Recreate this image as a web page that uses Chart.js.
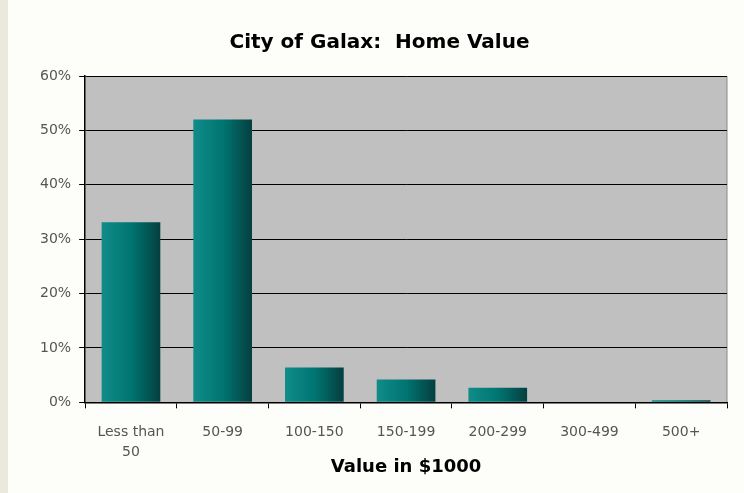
<!DOCTYPE html>
<html>
<head>
<meta charset="utf-8">
<script src="https://cdn.jsdelivr.net/npm/chart.js@4.4.0/dist/chart.umd.min.js"></script>
<style>
  html, body { margin: 0; padding: 0; background: #fdfdfa; }
  #wrap { position: absolute; left: 8px; top: 0; width: 736px; height: 493px; }
  #strip { position: absolute; left: 0; top: 0; width: 8px; height: 493px; background: #ebe8dc; }
</style>
</head>
<body>
<div id="strip"></div>
<div id="wrap"><canvas id="c" width="736" height="493"></canvas></div>
<script>
var categories = [["Less than", "50"], "50-99", "100-150", "150-199", "200-299", "300-499", "500+"];
var homeValue = [33.1, 52.0, 6.4, 4.2, 2.7, 0, 0.4];
var yTicks = [0, 10, 20, 30, 40, 50, 60];

// gray plot background
var plotBg = {
	id: "plotBg",
	beforeDraw: function (chart) {
		var a = chart.chartArea;
		var ctx = chart.ctx;
		ctx.save();
		ctx.fillStyle = "#c0c0c0";
		ctx.fillRect(a.left, a.top, a.right - a.left, a.bottom - a.top);
		ctx.strokeStyle = "#8a8a8a";
		ctx.lineWidth = 1;
		ctx.beginPath();
		ctx.moveTo(a.right, a.top);
		ctx.lineTo(a.right, a.bottom);
		ctx.stroke();
		ctx.restore();
	}
};

function barGradient(context) {
	var chart = context.chart;
	if (!chart.chartArea || !chart.scales.x) return "#007070";
	var x = chart.scales.x.getPixelForValue(context.dataIndex);
	var half = chart.scales.x.width / categories.length * 0.64 / 2;
	var g = chart.ctx.createLinearGradient(x - half, 0, x + half, 0);
	g.addColorStop(0, "#108c89");
	g.addColorStop(0.5, "#007572");
	g.addColorStop(1, "#053f3f");
	return g;
}

new Chart(document.getElementById("c"), {
	type: "bar",
	data: {
		labels: categories,
		datasets: [{
			data: homeValue,
			backgroundColor: barGradient,
			borderWidth: 0,
			categoryPercentage: 0.64,
			barPercentage: 1
		}]
	},
	options: {
		responsive: false,
		animation: false,
		layout: { padding: { left: 24, right: 17, top: 10, bottom: 15 } },
		plugins: {
			legend: { display: false },
			tooltip: { enabled: false },
			title: {
				display: true,
				text: "City of Galax:  Home Value",
				color: "#000",
				font: { family: "DejaVu Sans", size: 20, weight: "bold" },
				padding: { top: 21, bottom: 21 }
			}
		},
		scales: {
			x: {
				grid: { offset: true, drawOnChartArea: false, drawTicks: true, tickLength: 6, color: "#000" },
				border: { color: "#000", width: 1.5 },
				ticks: { color: "#555", font: { family: "DejaVu Sans", size: 14, lineHeight: 1.43 }, padding: 14, maxRotation: 0 },
				title: {
					display: true,
					text: "Value in $1000",
					color: "#000",
					font: { family: "DejaVu Sans", size: 18, weight: "bold" },
					padding: { top: -20, bottom: 0 }
				}
			},
			y: {
				min: 0,
				max: 60,
				afterBuildTicks: function (axis) {
					axis.ticks = yTicks.map(function (v) { return { value: v }; });
				},
				grid: { color: "#000", lineWidth: 1, tickLength: 6 },
				border: { color: "#000", width: 1.5 },
				ticks: {
					color: "#555",
					font: { family: "DejaVu Sans", size: 14 },
					padding: 8,
					callback: function (v) { return v + "%"; }
				}
			}
		}
	},
	plugins: [plotBg]
});
</script>
</body>
</html>
